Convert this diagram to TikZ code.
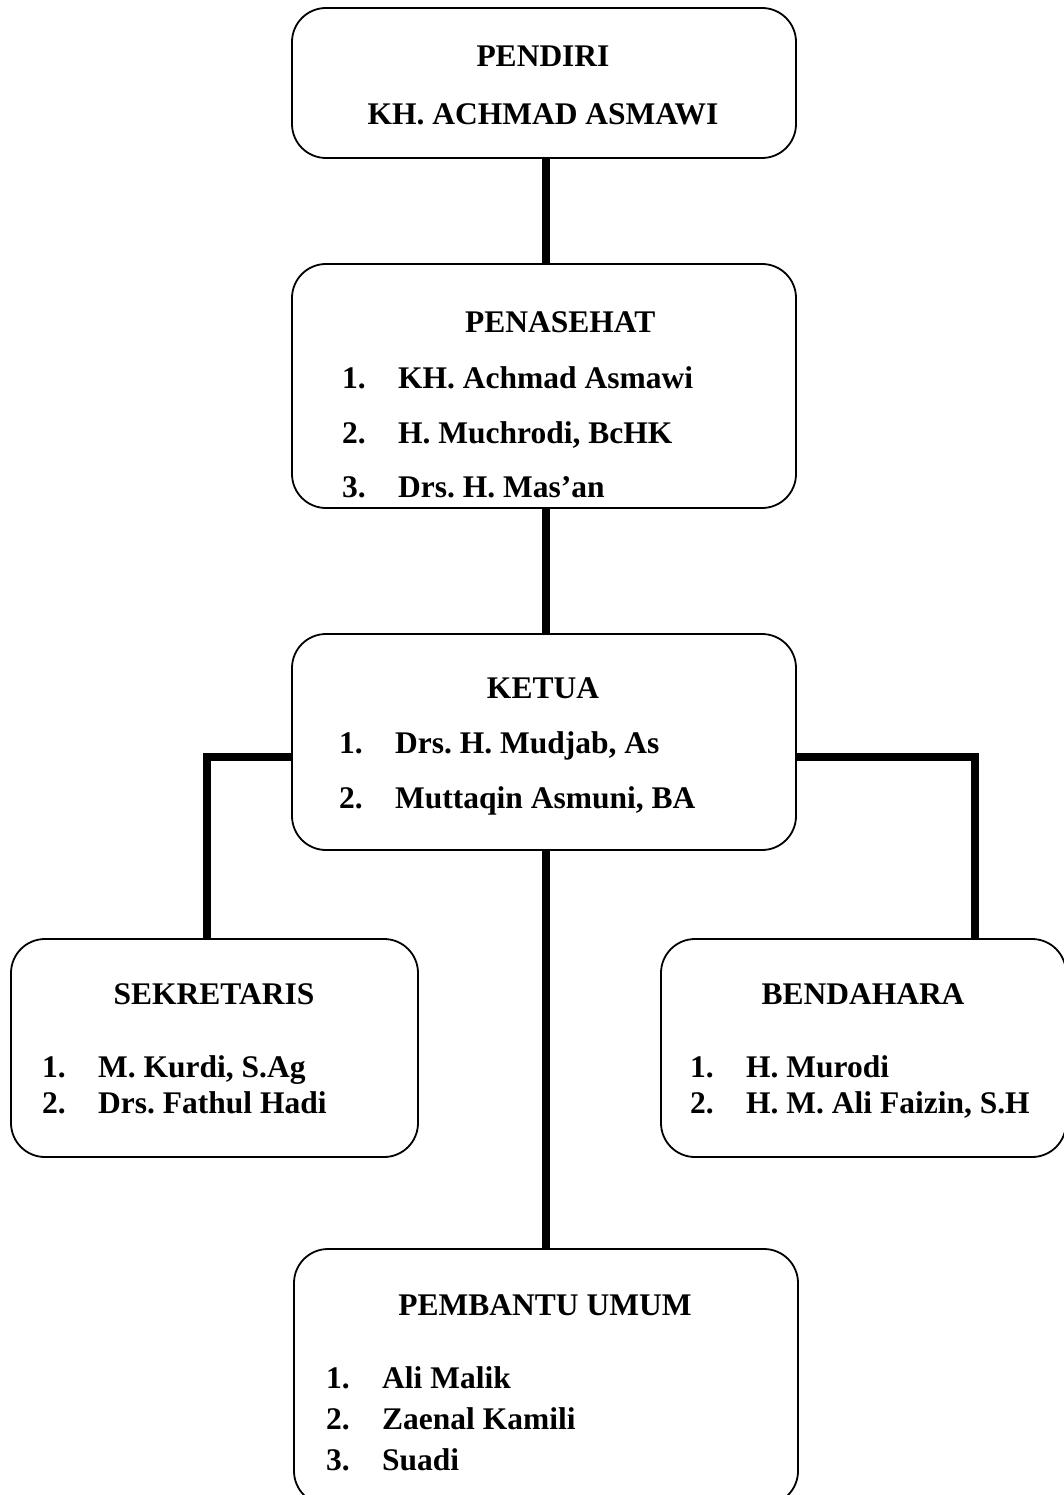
\documentclass[tikz,border=0pt]{standalone}
\usepackage{fontspec}
\setmainfont{Liberation Serif}
\frenchspacing
\begin{document}
\begin{tikzpicture}[x=1pt,y=-1pt,
  box/.style={draw, line width=1.8pt, rounded corners=34pt, inner sep=0pt, minimum width=#1},
  conn/.style={line width=8pt, line cap=butt, line join=miter},
  txt/.style={inner sep=0pt, font=\fontsize{31.5}{36}\selectfont\bfseries\frenchspacing},
  item/.style={txt, anchor=base west},
  head/.style={txt, anchor=base}]
\useasboundingbox (0,0) rectangle (1063,1495);
\newcommand{\itm}[2]{\makebox[56pt][l]{#1}#2}
% boxes
\node[box=504pt, minimum height=150pt] (pendiri) at (544,83) {};
\node[box=504pt, minimum height=244pt] (penasehat) at (544,386) {};
\node[box=504pt, minimum height=216pt] (ketua) at (544,742) {};
\node[box=407pt, minimum height=218pt] (sekretaris) at (214.5,1048) {};
\node[box=405pt, minimum height=218pt] (bendahara) at (863.5,1048) {};
\node[box=504pt, minimum height=256pt] (pembantu) at (546,1377) {};
% texts
\node[head] (t1) at (543,67) {PENDIRI};
\node[head] (t2) at (543,125) {KH. ACHMAD ASMAWI};
\node[item] (t3) at (465,332) {PENASEHAT};
\node[item] (t4) at (342,388) {\itm{1.}{KH. Achmad Asmawi}};
\node[item] (t5) at (342,443) {\itm{2.}{H. Muchrodi, BcHK}};
\node[item] (t6) at (342,497) {\itm{3.}{Drs. H. Mas’an}};
\node[head] (t7) at (543,698) {KETUA};
\node[item] (t8) at (339,753) {\itm{1.}{Drs. H. Mudjab, As}};
\node[item] (t9) at (339,808) {\itm{2.}{Muttaqin Asmuni, BA}};
\node[head] (t10) at (214,1004) {SEKRETARIS};
\node[item] (t11) at (42,1077) {\itm{1.}{M. Kurdi, S.Ag}};
\node[item] (t12) at (42,1113) {\itm{2.}{Drs. Fathul Hadi}};
\node[head] (t13) at (863,1004) {BENDAHARA};
\node[item] (t14) at (690,1077) {\itm{1.}{H. Murodi}};
\node[item] (t15) at (690,1113) {\itm{2.}{H. M. Ali Faizin, S.H}};
\node[head] (t16) at (545,1315) {PEMBANTU UMUM};
\node[item] (t17) at (326,1388) {\itm{1.}{Ali Malik}};
\node[item] (t18) at (326,1429) {\itm{2.}{Zaenal Kamili}};
\node[item] (t19) at (326,1470) {\itm{3.}{Suadi}};
% connectors
\coordinate (mx) at (546,0);
\coordinate (lj) at (207,757);
\coordinate (rj) at (975,757);
\draw[conn] (pendiri.south -| mx) -- (penasehat.north -| mx);
\draw[conn] (penasehat.south -| mx) -- (ketua.north -| mx);
\draw[conn] (ketua.south -| mx) -- (pembantu.north -| mx);
\draw[conn] (ketua.west |- lj) -| (sekretaris.north -| lj);
\draw[conn] (ketua.east |- rj) -| (bendahara.north -| rj);
\end{tikzpicture}
\end{document}
